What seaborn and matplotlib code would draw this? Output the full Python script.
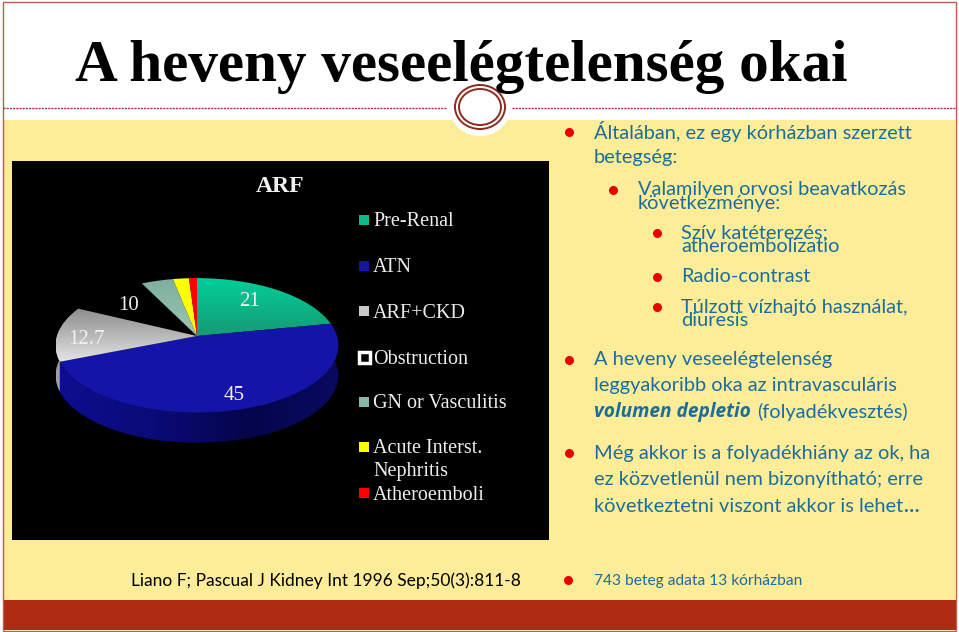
import numpy as np
import pandas as pd
import seaborn as sns
import matplotlib
matplotlib.use('Agg')
from matplotlib import pyplot as plt
from matplotlib.patches import Rectangle, Ellipse, PathPatch
from matplotlib.path import Path

# adatok
categories = ['Pre-Renal', 'ATN', 'ARF+CKD', 'Obstruction', 'GN or Vasculitis', 'Acute Interst.\nNephritis', 'Atheroemboli']
values = [21, 45, 12.7, 10, 4, 2, 1]
slice_colors = ['#10B98A', '#1414A8', '#C8C8C8', '#000000', '#86B8A6', '#FFFF00', '#FF0000']
value_labels = ['21', '45', '12.7', '10']
title = 'A heveny veseelégtelenség okai'
source = 'Liano F; Pascual J Kidney Int 1996 Sep;50(3):811-8'

BLUE = '#1B6E9C'
CREAM = '#FDEC98'
BRICK = '#AE2D12'

sns.set_theme(style='white')
plt.rcParams['font.family'] = ['Lato', 'DejaVu Sans']

fig = plt.figure(figsize=(9.59, 6.32), dpi=100)
ax = fig.add_axes([0, 0, 1, 1])

# a kör szelet a pie-ból, utána perspektívával torzítva
wedges, _ = ax.pie(values, startangle=90, counterclock=False, colors=slice_colors)
ax.set_aspect('auto')
ax.set_xlim(0, 959)
ax.set_ylim(632, 0)
ax.set_frame_on(False)
ax.set_xticks([])
ax.set_yticks([])

cx, cy = 197, 336
k = 0.14
def project(v):
    d = 1 + k * v[:, 1]
    return np.column_stack([cx + 140 * v[:, 0] / d, cy - 66 * v[:, 1] / d])

ax.add_patch(Rectangle((0, 0), 959, 632, fc='white', ec='none', zorder=0))
ax.add_patch(Rectangle((3, 120), 952, 480, fc=CREAM, ec='none', zorder=0.1))
ax.add_patch(Rectangle((3, 600), 953, 30, fc=BRICK, ec='none', zorder=0.2))
ax.add_patch(Rectangle((2.5, 1.5), 953, 629, fc='none', ec='#B8604C', lw=1, zorder=0.3))
ax.plot([3, 447], [108, 108], color='#A83040', lw=1, ls=(0, (1.5, 0.8)), zorder=0.4)
ax.plot([512, 955], [108, 108], color='#A83040', lw=1, ls=(0, (1.5, 0.8)), zorder=0.4)
ax.add_patch(Ellipse((480, 107), 62, 58, fc='white', ec='none', zorder=0.5))
ax.add_patch(Ellipse((480, 107), 50, 44, fc='white', ec='#8E2A1E', lw=1.4, zorder=0.6))
ax.add_patch(Ellipse((480, 107), 42, 36, fc='white', ec='#8E2A1E', lw=1.4, zorder=0.6))
ax.add_patch(Rectangle((12, 161), 537, 379, fc='black', ec='none', zorder=1))

def gradient_fill(patch, colors, zorder, horizontal=False):
    cmap = matplotlib.colors.LinearSegmentedColormap.from_list('g', colors)
    g = np.linspace(0, 1, 256)
    g = g.reshape(1, -1) if horizontal else g.reshape(-1, 1)
    patch.set_facecolor('none')
    patch.set_edgecolor('none')
    ax.add_patch(patch)
    bb = patch.get_path().get_extents()
    im = ax.imshow(g, cmap=cmap, aspect='auto', extent=[bb.x0, bb.x1, bb.y1, bb.y0], zorder=zorder)
    im.set_clip_path(patch)
    ax.set_xlim(0, 959)
    ax.set_ylim(632, 0)

face_grad = {0: ['#00CF98', '#189A74'], 2: ['#8C8C8C', '#E4E4E4'], 4: ['#7FAF9E', '#9AC6B5']}
wall_grad = {1: ['#0E0E90', '#0A0A78', '#05054C', '#0A0A60'], 2: ['#A0A0A0', '#808080']}
depth = 30

for i, w in enumerate(wedges):
    p = w.get_path()
    mapped = Path(project(p.vertices), p.codes)
    w.remove()
    if i == 3:
        continue  # Obstruction fekete a fekete alapon
    # oldalfal
    if i in wall_grad:
        flat = mapped.to_polygons(closed_only=False)[0]
        # csak az ív kell: a csúcs és az utána jövő záró pont nem
        d = np.hypot(flat[:, 0] - cx, flat[:, 1] - cy)
        arc = flat[:np.argmin(d)]
        wall = np.vstack([arc, (arc + [0, depth])[::-1]])
        gradient_fill(PathPatch(Path(wall)), wall_grad[i], 1.2 if i == 2 else 1.3, horizontal=True)
    if i in face_grad:
        gradient_fill(PathPatch(mapped), face_grad[i], 2)
    else:
        ax.add_patch(PathPatch(mapped, fc=slice_colors[i], ec='none', zorder=2))

serif = ['Liberation Serif', 'DejaVu Serif']
ax.text(280, 186, 'ARF', family=serif, weight='bold', fontsize=17, color='#F0F0F0', ha='center', va='center', zorder=3)
label_x = [249, 234, 86, 129]
label_y = [301, 396, 339, 306]
for t, x, y in zip(value_labels, label_x, label_y):
    ax.text(x, y, t, family=serif, fontsize=15, color='#F0F0F0', ha='center', va='center', zorder=3)

# jelmagyarázat
legend_y = [220, 266, 311, 357, 402, 447, 493]
text_y = [222, 268, 313, 359, 404, 460, 495]
legend_df = pd.DataFrame({'x': 364, 'y': legend_y, 'cat': categories})
keep = [c for c, col in zip(categories, slice_colors) if c != 'Obstruction']
sns.scatterplot(data=legend_df[legend_df.cat != 'Obstruction'], x='x', y='y', hue='cat', hue_order=keep,
                palette=[c for c in slice_colors if c != '#000000'], marker='s', s=55, linewidth=0,
                legend=False, ax=ax, zorder=3)
ax.add_patch(Rectangle((358.5, 351.5), 11, 11, fc='black', ec='white', lw=2.5, zorder=3))
for c, y in zip(categories, text_y):
    ax.text(373, y, c, family=serif, fontsize=14.5, color='#EDEDED', va='center', linespacing=1.3, zorder=3)

# szöveg
ax.text(75, 81, title, family=serif, weight='bold', fontsize=42.6, color='black', va='baseline', zorder=3)

body_lines = [
    (594, 131, 'Általában, ez egy kórházban szerzett'), (594, 158, 'betegség:'),
    (638, 190, 'Valamilyen orvosi beavatkozás'), (638, 203, 'következménye:'),
    (681, 233, 'Szív katéterezés;'), (681, 246, 'atheroembolizatio'),
    (681, 277, 'Radio-contrast'),
    (681, 308, 'Túlzott vízhajtó használat,'), (681, 320, 'diuresis'),
    (594, 360, 'A heveny veseelégtelenség'), (594, 386, 'leggyakoribb oka az intravasculáris'),
    (757, 412, '(folyadékvesztés)'),
    (594, 454, 'Még akkor is a folyadékhiány az ok, ha'), (594, 480, 'ez közvetlenül nem bizonyítható; erre'),
]
for x, y, t in body_lines:
    ax.text(x, y, t, fontsize=14.4, color=BLUE, va='center', zorder=3)
ax.text(594, 412, 'volumen depletio', family='Open Sans', fontsize=13.8, color=BLUE, va='center', weight='bold', style='italic', zorder=3)
last = ax.text(594, 506, 'következtetni viszont akkor is lehet', fontsize=14.4, color=BLUE, va='center', zorder=3)
end_x = last.get_window_extent(fig.canvas.get_renderer()).x1
ax.text(end_x, 506, '…', fontsize=14.4, color=BLUE, va='center', weight='bold', zorder=3)
ax.text(594, 581, '743 beteg adata 13 kórházban', fontsize=11.2, color=BLUE, va='center', zorder=3)
ax.text(131, 581, source, fontsize=12.5, color='black', va='center', zorder=3)

bullet_x = [569, 613, 657, 657, 657, 569, 569, 568]
bullet_y = [132, 190, 233, 277, 307, 360, 453, 580]
sns.scatterplot(x=bullet_x, y=bullet_y, color='#E80000', s=42, linewidth=0, ax=ax, zorder=3)

ax.set_xlim(0, 959)
ax.set_ylim(632, 0)
ax.set_xlabel('')
ax.set_ylabel('')
fig.savefig('out.png', dpi=100)
